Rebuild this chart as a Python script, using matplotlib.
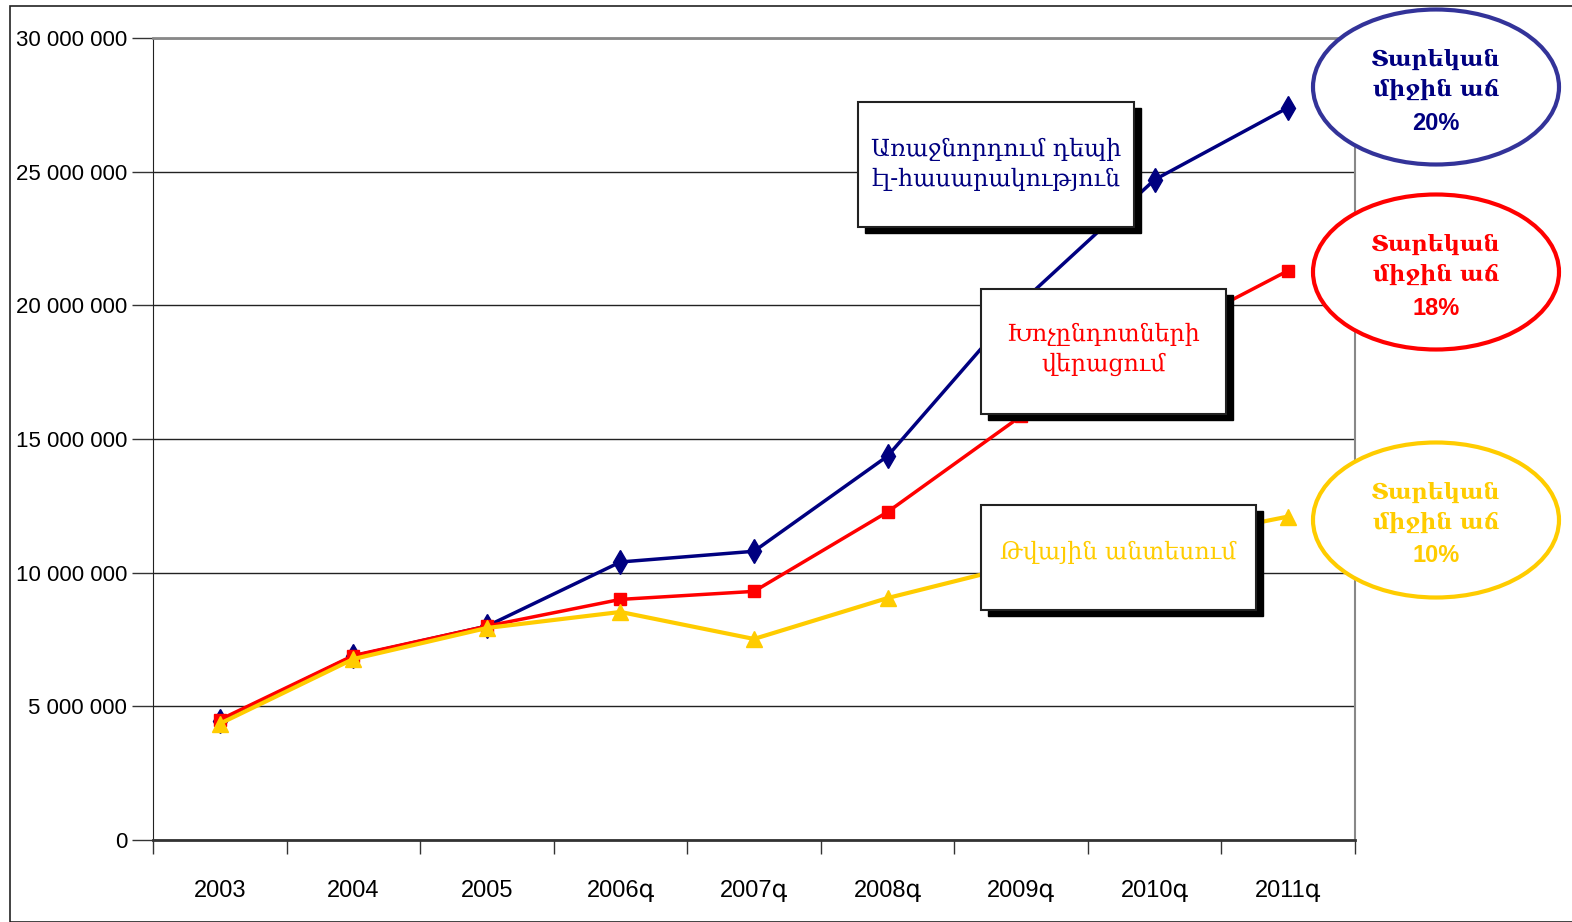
import matplotlib
matplotlib.use("Agg")
import matplotlib.pyplot as plt
from matplotlib.patches import Rectangle, Ellipse
from matplotlib.ticker import FuncFormatter

W, H = 1572, 922

years = ["2003", "2004", "2005", "2006գ", "2007գ", "2008գ", "2009գ", "2010գ", "2011գ"]
leadership = [4.45e6, 6.88e6, 8.0e6, 10.4e6, 10.8e6, 14.36e6, 20.1e6, 24.7e6, 27.4e6]
barriers = [4.5e6, 6.9e6, 8.0e6, 9.0e6, 9.3e6, 12.27e6, 15.86e6, 18.7e6, 21.3e6]
digital = [4.35e6, 6.77e6, 7.93e6, 8.53e6, 7.52e6, 9.05e6, 10.3e6, 11.1e6, 12.1e6]

box_labels = ["Առաջնորդում դեպի\nէլ-հասարակություն", "Խոչընդոտների\nվերացում", "Թվային անտեսում"]
growth_text = "Տարեկան\nմիջին աճ"
growth_rates = ["20%", "18%", "10%"]

NAVY = "#000080"
RED = "#FF0000"
GOLD = "#FFCC00"
TICK_FONT = ["Liberation Sans", "DejaVu Sans"]
BOX_FONT = ["DejaVu Serif", "DejaVu Sans"]


def fx(x):
    return x / W


def fy(y):
    return 1 - y / H


fig = plt.figure(figsize=(W / 100, H / 100), dpi=100)
ax = fig.add_axes([fx(153), fy(840), fx(1355) - fx(153), fy(38) - fy(840)])

xs = list(range(len(years)))
ax.plot(xs, leadership, color=NAVY, lw=2.5, marker="d", ms=12, zorder=3)
ax.plot(xs, barriers, color=RED, lw=2.5, marker="s", ms=9, zorder=4)
ax.plot(xs, digital, color=GOLD, lw=3, marker="^", ms=11, zorder=5)

ax.set_xlim(-0.5, len(years) - 0.5)
ax.set_ylim(0, 30e6)
ax.set_yticks([0, 5e6, 10e6, 15e6, 20e6, 25e6, 30e6])
ax.yaxis.set_major_formatter(FuncFormatter(lambda v, p: f"{int(v):,}".replace(",", " ")))
ax.set_xticks(xs)
ax.set_xticklabels(years)
ax.set_xticks([i - 0.5 for i in range(len(years) + 1)], minor=True)
ax.tick_params(axis="x", which="major", length=0, pad=29)
ax.tick_params(axis="x", which="minor", length=10, width=1, color="#333333")
ax.tick_params(axis="y", length=15, width=1, pad=3.5, color="#333333")
for lab in ax.get_xticklabels():
    lab.set_family(TICK_FONT)
    lab.set_fontsize(17)
for lab in ax.get_yticklabels():
    lab.set_family(TICK_FONT)
    lab.set_fontsize(16)

ax.grid(axis="y", color="#222222", lw=1)
ax.set_axisbelow(True)
ax.spines["top"].set_color("#888888")
ax.spines["top"].set_linewidth(2)
ax.spines["right"].set_color("#888888")
ax.spines["right"].set_linewidth(1.5)
ax.spines["left"].set_color("#222222")
ax.spines["bottom"].set_color("#333333")
ax.spines["bottom"].set_linewidth(2)

# outer frame
fig.patches.append(Rectangle((fx(10), 0), 1.0, fy(6), transform=fig.transFigure,
                             fill=False, ec="#222222", lw=1.2))

# text boxes with drop shadow (left, top, right, bottom in px)
boxes = [(858, 102, 1134, 227, NAVY, 0), (981, 289, 1226, 414, RED, -2), (981, 505, 1256, 610, GOLD, -5)]
for (l, t, r, b, col, dy), lab in zip(boxes, box_labels):
    fig.patches.append(Rectangle((fx(l + 7), fy(b + 6)), fx(r - l), fy(t) - fy(b),
                                 transform=fig.transFigure, fc="black", ec="black", zorder=10))
    fig.patches.append(Rectangle((fx(l), fy(b)), fx(r - l), fy(t) - fy(b),
                                 transform=fig.transFigure, fc="white", ec="#222222", lw=1.5, zorder=11))
    fig.text(fx((l + r) / 2), fy((t + b) / 2 + dy), lab, color=col, ha="center", va="center",
             fontsize=17, family=BOX_FONT, linespacing=1.35, zorder=12)

# growth ellipses
ellipses = [(87, "#333399", NAVY), (272, RED, RED), (520, GOLD, GOLD)]
for (cy, ec, tc), rate in zip(ellipses, growth_rates):
    fig.patches.append(Ellipse((fx(1436), fy(cy)), fx(246), 155 / H, transform=fig.transFigure,
                               fc="white", ec=ec, lw=3, zorder=10))
    fig.text(fx(1436), fy(cy - 12), growth_text, color=tc, ha="center", va="center", fontsize=16,
             fontweight="bold", family=BOX_FONT, linespacing=1.45, zorder=12)
    fig.text(fx(1436), fy(cy + 36), rate, color=tc, ha="center", va="center", fontsize=17,
             fontweight="bold", family=TICK_FONT, zorder=12)

fig.savefig("out.png", dpi=100)
